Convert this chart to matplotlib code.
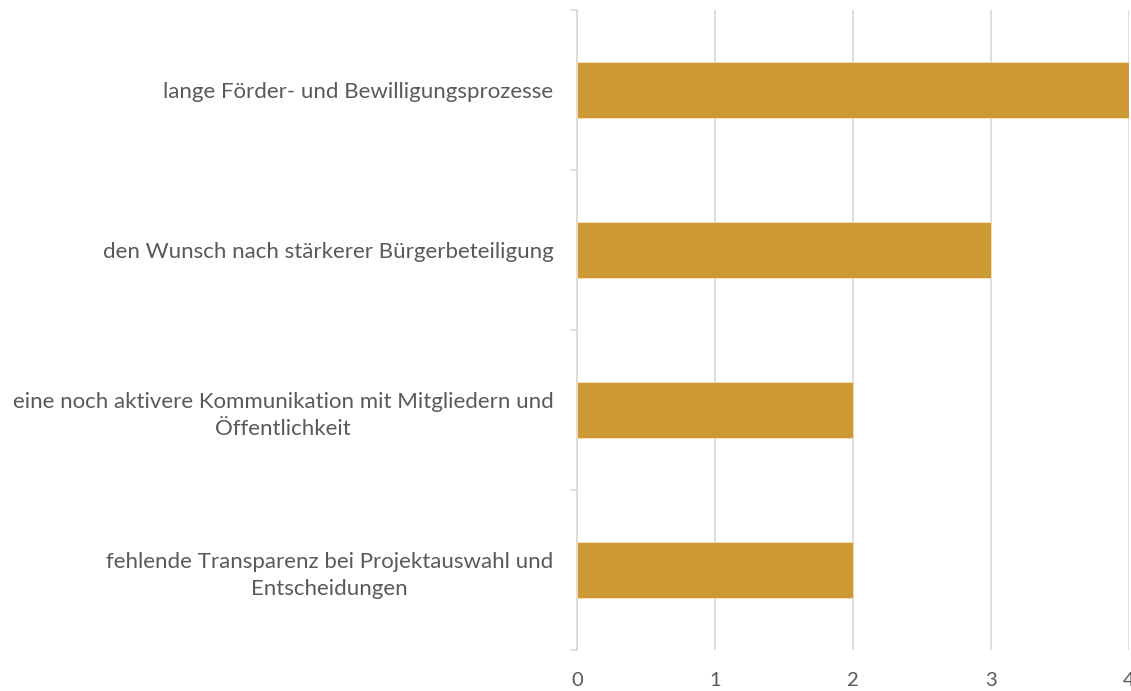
import matplotlib.pyplot as plt
import numpy as np

# answers, top to bottom
labels = ['lange Förder- und Bewilligungsprozesse',
          'den Wunsch nach stärkerer Bürgerbeteiligung',
          'eine noch aktivere Kommunikation mit Mitgliedern und\nÖffentlichkeit',
          'fehlende Transparenz bei Projektauswahl und\nEntscheidungen']
counts = [4, 3, 2, 2]
xticks = [0, 1, 2, 3, 4]

plt.rcParams['font.family'] = ['Lato', 'DejaVu Sans']

fig = plt.figure(figsize=(11.31, 6.91), dpi=100)
ax = fig.add_axes([0.5102, 0.0593, 0.4880, 0.9262])

y = np.arange(len(labels))
ax.barh(y, counts, height=0.35, color='#cd9934', edgecolor='#f3e3c0', linewidth=0.6, zorder=3)

ax.set_xlim(0, 4)
ax.set_ylim(len(labels) - 0.5, -0.5)
ax.set_xticks(xticks)
ax.grid(axis='x', color='#d9d9d9', linewidth=1.2, zorder=0)

ax.set_yticks(y)
ax.set_yticklabels(labels)
for t in ax.get_yticklabels():
    t.set_multialignment('center')
    t.set_linespacing(1.45)
ax.set_yticks(np.arange(len(labels) + 1) - 0.5, minor=True)

ax.tick_params(axis='both', which='major', length=0, labelcolor='#595959')
ax.tick_params(axis='x', pad=16, labelsize=14.5)
ax.tick_params(axis='y', which='major', pad=17, labelsize=16)
ax.tick_params(axis='y', which='minor', length=5, width=1.2, color='#d9d9d9')

for s in ['top', 'right', 'bottom']:
    ax.spines[s].set_visible(False)
ax.spines['left'].set_color('#d9d9d9')
ax.spines['left'].set_linewidth(1.2)

plt.savefig('out.png', dpi=100)
